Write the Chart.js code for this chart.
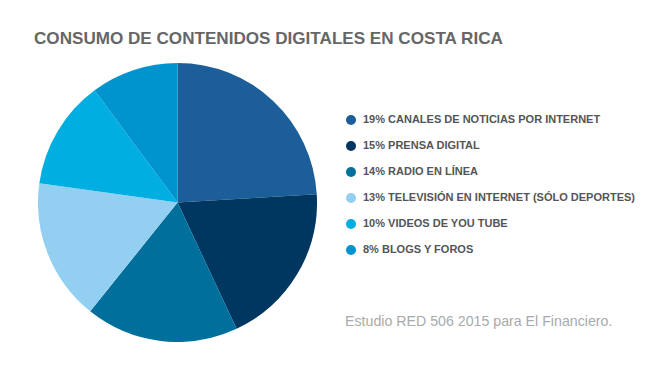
<!DOCTYPE html>
<html>
<head>
<meta charset="utf-8">
<script src="https://cdn.jsdelivr.net/npm/chart.js@4"></script>
<style>
  body { margin: 0; background: #fff; font-family: "Liberation Sans", Arial, sans-serif; }
  #wrap { position: relative; width: 650px; height: 375px; overflow: hidden; }
  #title { position: absolute; left: 34px; top: 29px; font-size: 17.1px; font-weight: bold; color: #666; white-space: nowrap; }
  #pie-box { position: absolute; left: 38px; top: 63px; width: 279px; height: 279px; }
  #legend { position: absolute; left: 346px; top: 113px; margin: 0; padding: 0; list-style: none; }
  #legend li { height: 26px; font-size: 11px; font-weight: bold; color: #555; white-space: nowrap; display: flex; align-items: flex-start; }
  #legend .dot { width: 10px; height: 10px; border-radius: 50%; margin-right: 7px; margin-top: 2px; }
  #source { position: absolute; left: 345px; top: 313px; font-size: 14.2px; color: #aaa; white-space: nowrap; }
</style>
</head>
<body>
<div id="wrap">
  <div id="title">CONSUMO DE CONTENIDOS DIGITALES EN COSTA RICA</div>
  <div id="pie-box"><canvas id="PieChart" width="279" height="279"></canvas></div>
  <ul id="legend"></ul>
  <div id="source">Estudio RED 506 2015 para El Financiero.</div>
</div>
<script>
const categories = ['CANALES DE NOTICIAS POR INTERNET', 'PRENSA DIGITAL', 'RADIO EN LÍNEA', 'TELEVISIÓN EN INTERNET (SÓLO DEPORTES)', 'VIDEOS DE YOU TUBE', 'BLOGS Y FOROS'];
const percents = [19, 15, 14, 13, 10, 8];
const colors = ['#1b5e99', '#003760', '#006f9c', '#93cff1', '#00aee1', '#0094cf'];

// legend, one line per category
const legend = document.getElementById('legend');
legend.innerHTML = categories.map((cat, i) => {
  return `<li><span class="dot" style="background:${colors[i]}"></span>${percents[i]}% ${cat}</li>`;
}).join('');

const ctx = document.getElementById('PieChart').getContext('2d');
new Chart(ctx, {
  type: 'pie',
  data: {
    labels: categories,
    datasets: [{
      data: percents,
      backgroundColor: colors,
      borderWidth: 0
    }]
  },
  options: {
    responsive: false,
    animation: false,
    layout: { padding: 0 },
    plugins: {
      legend: { display: false },
      tooltip: { enabled: false }
    }
  }
});
</script>
</body>
</html>
